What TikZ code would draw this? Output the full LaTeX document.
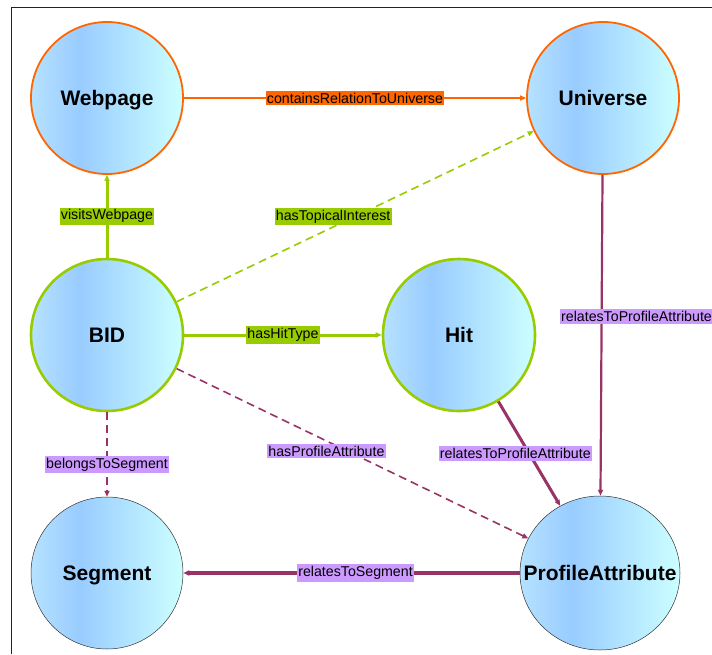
\documentclass[tikz,border=0pt]{standalone}
\usepackage{fontspec}
\setmainfont{Liberation Sans}
\usetikzlibrary{arrows.meta,shapes.geometric}
\definecolor{orangeE}{HTML}{FF6600}
\definecolor{greenE}{HTML}{99CC00}
\definecolor{plumE}{HTML}{993366}
\definecolor{lavE}{HTML}{CC99FF}
\definecolor{shA}{HTML}{B6E2FF}
\definecolor{shB}{HTML}{99CCFF}
\definecolor{shC}{HTML}{CCFFFF}
\definecolor{frameE}{HTML}{222222}
\pgfdeclarehorizontalshading{bubble}{100bp}{color(0bp)=(shA); color(25bp)=(shA); color(41bp)=(shB); color(75bp)=(shC); color(100bp)=(shC)}
\tikzset{
  bub/.style={circle, minimum size=152pt, inner sep=0pt, shading=bubble, text depth=0pt,
     font=\fontsize{21}{24}\selectfont\bfseries},
  bubor/.style={bub, draw=orangeE, line width=1.8pt},
  bubgr/.style={bub, draw=greenE, line width=2.6pt},
  bubgy/.style={bub, draw=black!80, line width=0.5pt},
  lbl/.style={inner xsep=1.3pt, inner ysep=2pt, outer sep=0pt, font=\fontsize{14.2}{16}\selectfont, text=black},
  lor/.style={lbl, fill=orangeE},
  lgr/.style={lbl, fill=greenE},
  lpu/.style={lbl, fill=lavE},
  tip/.style={-{Triangle[length=6pt,width=5pt]}},
}
\begin{document}
\begin{tikzpicture}[x=1pt,y=-1pt]
\useasboundingbox (0,0) rectangle (712,654);
\draw[frameE, line width=1pt] (11,654) -- (11,7) -- (712,7);
\node[bubor] (web) at (107,98) {Webpage};
\node[bubor] (uni) at (603,98) {Universe};
\node[bubgr] (bid) at (107,335) {BID};
\node[bubgr] (hit) at (459,335) {Hit};
\node[bubgy] (seg) at (107,573) {Segment};
\node[bub, ellipse, draw=black!80, line width=0.5pt, minimum width=160pt, minimum height=154pt] (pa) at (600,573) {\makebox[0pt]{ProfileAttribute}};
% edges
\draw[tip, orangeE, line width=1.6pt] (web) -- node[lor] (l1) {containsRelationToUniverse} (uni);
\draw[tip, greenE, line width=3pt] (bid) -- node[lgr] (l2) {visitsWebpage} (web);
\draw[tip, greenE, line width=1.6pt, dash pattern=on 8pt off 5pt] (bid) -- node[lgr, xshift=-22pt] (l3) {hasTopicalInterest} (uni);
\draw[tip, greenE, line width=3pt] (bid) -- node[lgr] (l4) {hasHitType} (hit);
\draw[tip, plumE, line width=1.6pt, dash pattern=on 8pt off 5pt] (bid) -- node[lpu, pos=0.62] (l5) {belongsToSegment} (seg);
\draw[tip, plumE, line width=1.6pt, dash pattern=on 8pt off 5pt] (bid) -- node[lpu, xshift=-26pt, yshift=2.5pt] (l6) {hasProfileAttribute} (pa);
\draw[tip, plumE, line width=3pt] (hit) -- node[lpu, xshift=-14pt] (l7) {relatesToProfileAttribute} (pa);
\draw[tip, plumE, line width=2.2pt] (uni) -- node[lpu, xshift=35pt, yshift=19pt] (l8) {relatesToProfileAttribute} (pa);
\draw[tip, plumE, line width=3.8pt] (pa) -- node[lpu, xshift=4pt] (l9) {relatesToSegment} (seg);
\end{tikzpicture}
\end{document}
